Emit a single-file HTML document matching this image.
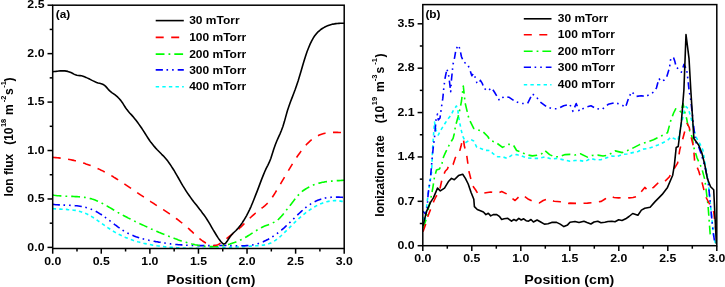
<!DOCTYPE html>
<html><head><meta charset="utf-8"><style>
html,body{margin:0;padding:0;background:#fff;width:725px;height:287px;overflow:hidden}
svg{display:block;filter:blur(0.3px)}
</style></head><body>
<svg width="725" height="287" viewBox="0 0 725 287" font-family='"Liberation Sans", sans-serif' font-weight="bold"><rect x="0" y="0" width="725" height="287" fill="#fff"/>
<defs><clipPath id="cl"><rect x="52.7" y="5.2" width="291.5" height="242.8"/></clipPath><clipPath id="cr"><rect x="422.8" y="4.6" width="294" height="240.9"/></clipPath></defs>
<path d="M52.7,208.6 L54.2,208.8 L55.7,208.9 L57.2,209.0 L58.8,209.1 L60.3,209.1 L61.8,209.2 L63.3,209.3 L64.8,209.4 L66.3,209.4 L67.8,209.6 L69.4,209.7 L70.9,209.8 L72.4,210.0 L73.9,210.2 L75.4,210.4 L76.9,210.7 L78.4,211.1 L80.0,211.5 L81.5,211.9 L83.0,212.4 L84.5,213.0 L86.0,213.6 L87.5,214.3 L89.0,215.1 L90.6,216.0 L92.1,216.9 L93.6,217.8 L95.1,218.8 L96.6,219.8 L98.1,220.9 L99.6,221.9 L101.2,223.0 L102.7,224.1 L104.2,225.2 L105.7,226.3 L107.2,227.3 L108.7,228.3 L110.3,229.3 L111.8,230.3 L113.3,231.2 L114.8,232.1 L116.3,233.0 L117.8,233.8 L119.3,234.6 L120.9,235.3 L122.4,236.0 L123.9,236.7 L125.4,237.4 L126.9,238.0 L128.4,238.6 L129.9,239.2 L131.5,239.7 L133.0,240.3 L134.5,240.8 L136.0,241.2 L137.5,241.7 L139.0,242.1 L140.5,242.5 L142.1,242.9 L143.6,243.3 L145.1,243.6 L146.6,243.9 L148.1,244.2 L149.6,244.5 L151.1,244.8 L152.7,245.1 L154.2,245.3 L155.7,245.5 L157.2,245.8 L158.7,246.0 L160.2,246.2 L161.7,246.4 L163.3,246.5 L164.8,246.7 L166.3,246.9 L167.8,247.0 L169.3,247.2 L170.8,247.3 L172.3,247.4 L173.9,247.5 L175.4,247.6 L176.9,247.7 L178.4,247.8 L179.9,247.9 L181.4,248.0 L182.9,248.1 L184.5,248.1 L186.0,248.2 L187.5,248.2 L189.0,248.3 L190.5,248.3 L192.0,248.3 L193.5,248.3 L195.1,248.4 L196.6,248.4 L198.1,248.4 L199.6,248.4 L201.1,248.4 L202.6,248.3 L204.2,248.3 L205.7,248.3 L207.2,248.3 L208.7,248.2 L210.2,248.2 L211.7,248.2 L213.2,248.1 L214.8,248.1 L216.3,248.0 L217.8,248.0 L219.3,247.9 L220.8,247.8 L222.3,247.8 L223.8,247.7 L225.4,247.6 L226.9,247.5 L228.4,247.5 L229.9,247.4 L231.4,247.3 L232.9,247.2 L234.4,247.1 L236.0,247.0 L237.5,247.0 L239.0,246.9 L240.5,246.8 L242.0,246.7 L243.5,246.6 L245.0,246.5 L246.6,246.4 L248.1,246.3 L249.6,246.2 L251.1,246.1 L252.6,246.0 L254.1,245.9 L255.6,245.8 L257.2,245.7 L258.7,245.6 L260.2,245.5 L261.7,245.3 L263.2,245.1 L264.7,244.9 L266.2,244.6 L267.8,244.1 L269.3,243.6 L270.8,243.0 L272.3,242.2 L273.8,241.4 L275.3,240.4 L276.8,239.3 L278.4,238.1 L279.9,236.8 L281.4,235.5 L282.9,234.1 L284.4,232.6 L285.9,231.2 L287.4,229.6 L289.0,228.1 L290.5,226.6 L292.0,225.1 L293.5,223.6 L295.0,222.1 L296.5,220.7 L298.1,219.3 L299.6,217.9 L301.1,216.6 L302.6,215.3 L304.1,214.1 L305.6,212.9 L307.1,211.7 L308.7,210.7 L310.2,209.6 L311.7,208.6 L313.2,207.7 L314.7,206.8 L316.2,205.9 L317.7,205.2 L319.3,204.4 L320.8,203.8 L322.3,203.2 L323.8,202.6 L325.3,202.1 L326.8,201.7 L328.3,201.4 L329.9,201.1 L331.4,200.9 L332.9,200.7 L334.4,200.6 L335.9,200.6 L337.4,200.7 L338.9,200.8 L340.5,201.1 L342.0,201.4 L343.5,201.7 L345.0,202.2" fill="none" stroke="#00ffff" stroke-width="1.6" stroke-dasharray="3.4 3.2" stroke-linejoin="round" clip-path="url(#cl)"/>
<path d="M52.7,204.4 L54.2,204.5 L55.7,204.7 L57.2,204.8 L58.8,204.9 L60.3,204.9 L61.8,205.0 L63.3,205.1 L64.8,205.1 L66.3,205.2 L67.8,205.2 L69.4,205.3 L70.9,205.4 L72.4,205.5 L73.9,205.6 L75.4,205.7 L76.9,205.8 L78.4,206.0 L80.0,206.2 L81.5,206.5 L83.0,206.8 L84.5,207.1 L86.0,207.5 L87.5,207.9 L89.0,208.4 L90.6,208.9 L92.1,209.6 L93.6,210.2 L95.1,211.0 L96.6,211.8 L98.1,212.6 L99.6,213.6 L101.2,214.5 L102.7,215.6 L104.2,216.6 L105.7,217.7 L107.2,218.8 L108.7,220.0 L110.3,221.1 L111.8,222.3 L113.3,223.4 L114.8,224.6 L116.3,225.7 L117.8,226.9 L119.3,227.9 L120.9,229.0 L122.4,230.0 L123.9,231.0 L125.4,231.9 L126.9,232.7 L128.4,233.5 L129.9,234.3 L131.5,235.0 L133.0,235.6 L134.5,236.2 L136.0,236.8 L137.5,237.3 L139.0,237.8 L140.5,238.3 L142.1,238.7 L143.6,239.1 L145.1,239.5 L146.6,239.8 L148.1,240.1 L149.6,240.5 L151.1,240.7 L152.7,241.0 L154.2,241.3 L155.7,241.6 L157.2,241.8 L158.7,242.1 L160.2,242.3 L161.7,242.6 L163.3,242.8 L164.8,243.0 L166.3,243.3 L167.8,243.5 L169.3,243.7 L170.8,243.9 L172.3,244.0 L173.9,244.2 L175.4,244.4 L176.9,244.5 L178.4,244.7 L179.9,244.8 L181.4,244.9 L182.9,245.0 L184.5,245.1 L186.0,245.2 L187.5,245.3 L189.0,245.4 L190.5,245.4 L192.0,245.5 L193.5,245.5 L195.1,245.6 L196.6,245.6 L198.1,245.6 L199.6,245.6 L201.1,245.6 L202.6,245.6 L204.2,245.6 L205.7,245.6 L207.2,245.6 L208.7,245.6 L210.2,245.6 L211.7,245.6 L213.2,245.6 L214.8,245.6 L216.3,245.6 L217.8,245.5 L219.3,245.5 L220.8,245.5 L222.3,245.5 L223.8,245.5 L225.4,245.5 L226.9,245.6 L228.4,245.6 L229.9,245.6 L231.4,245.6 L232.9,245.7 L234.4,245.7 L236.0,245.7 L237.5,245.8 L239.0,245.8 L240.5,245.8 L242.0,245.8 L243.5,245.8 L245.0,245.7 L246.6,245.6 L248.1,245.5 L249.6,245.3 L251.1,245.1 L252.6,244.9 L254.1,244.6 L255.6,244.3 L257.2,243.9 L258.7,243.4 L260.2,242.9 L261.7,242.3 L263.2,241.7 L264.7,241.0 L266.2,240.3 L267.8,239.5 L269.3,238.7 L270.8,237.8 L272.3,236.9 L273.8,235.9 L275.3,234.9 L276.8,233.8 L278.4,232.6 L279.9,231.4 L281.4,230.2 L282.9,228.9 L284.4,227.6 L285.9,226.2 L287.4,224.8 L289.0,223.3 L290.5,221.9 L292.0,220.4 L293.5,218.9 L295.0,217.4 L296.5,215.9 L298.1,214.4 L299.6,213.0 L301.1,211.6 L302.6,210.2 L304.1,208.9 L305.6,207.6 L307.1,206.4 L308.7,205.3 L310.2,204.3 L311.7,203.3 L313.2,202.4 L314.7,201.7 L316.2,200.9 L317.7,200.3 L319.3,199.7 L320.8,199.2 L322.3,198.8 L323.8,198.4 L325.3,198.0 L326.8,197.8 L328.3,197.5 L329.9,197.4 L331.4,197.2 L332.9,197.1 L334.4,197.1 L335.9,197.1 L337.4,197.1 L338.9,197.1 L340.5,197.2 L342.0,197.3 L343.5,197.4 L345.0,197.5" fill="none" stroke="#0000ff" stroke-width="1.6" stroke-dasharray="7.2 3.6 1.6 4 1.6 4" stroke-linejoin="round" clip-path="url(#cl)"/>
<path d="M52.7,195.0 L54.2,195.3 L55.7,195.5 L57.2,195.7 L58.8,195.8 L60.3,195.9 L61.8,196.0 L63.3,196.1 L64.8,196.2 L66.3,196.3 L67.8,196.3 L69.4,196.3 L70.9,196.4 L72.4,196.4 L73.9,196.5 L75.4,196.6 L76.9,196.6 L78.4,196.7 L80.0,196.9 L81.5,197.0 L83.0,197.2 L84.5,197.4 L86.0,197.6 L87.5,197.9 L89.0,198.3 L90.6,198.6 L92.1,199.1 L93.6,199.5 L95.1,200.1 L96.6,200.7 L98.1,201.3 L99.6,202.1 L101.2,202.8 L102.7,203.6 L104.2,204.4 L105.7,205.3 L107.2,206.1 L108.7,207.0 L110.3,207.9 L111.8,208.8 L113.3,209.7 L114.8,210.6 L116.3,211.5 L117.8,212.4 L119.3,213.2 L120.9,214.1 L122.4,214.9 L123.9,215.7 L125.4,216.5 L126.9,217.3 L128.4,218.1 L129.9,218.8 L131.5,219.6 L133.0,220.4 L134.5,221.1 L136.0,221.8 L137.5,222.6 L139.0,223.3 L140.5,224.0 L142.1,224.7 L143.6,225.4 L145.1,226.1 L146.6,226.8 L148.1,227.5 L149.6,228.2 L151.1,228.9 L152.7,229.6 L154.2,230.2 L155.7,230.9 L157.2,231.5 L158.7,232.2 L160.2,232.8 L161.7,233.4 L163.3,234.1 L164.8,234.7 L166.3,235.3 L167.8,235.9 L169.3,236.5 L170.8,237.1 L172.3,237.6 L173.9,238.2 L175.4,238.8 L176.9,239.3 L178.4,239.9 L179.9,240.4 L181.4,240.9 L182.9,241.4 L184.5,241.9 L186.0,242.3 L187.5,242.8 L189.0,243.2 L190.5,243.6 L192.0,244.0 L193.5,244.3 L195.1,244.7 L196.6,245.0 L198.1,245.3 L199.6,245.5 L201.1,245.8 L202.6,246.0 L204.2,246.2 L205.7,246.3 L207.2,246.4 L208.7,246.5 L210.2,246.6 L211.7,246.6 L213.2,246.6 L214.8,246.6 L216.3,246.5 L217.8,246.4 L219.3,246.2 L220.8,246.0 L222.3,245.8 L223.8,245.5 L225.4,245.2 L226.9,244.9 L228.4,244.5 L229.9,244.1 L231.4,243.6 L232.9,243.1 L234.4,242.6 L236.0,242.0 L237.5,241.4 L239.0,240.7 L240.5,240.0 L242.0,239.3 L243.5,238.5 L245.0,237.6 L246.6,236.7 L248.1,235.8 L249.6,234.9 L251.1,233.9 L252.6,232.9 L254.1,231.9 L255.6,231.0 L257.2,230.0 L258.7,229.1 L260.2,228.3 L261.7,227.5 L263.2,226.7 L264.7,226.1 L266.2,225.5 L267.8,224.9 L269.3,224.3 L270.8,223.7 L272.3,223.1 L273.8,222.4 L275.3,221.5 L276.8,220.5 L278.4,219.3 L279.9,217.9 L281.4,216.3 L282.9,214.6 L284.4,212.7 L285.9,210.8 L287.4,208.8 L289.0,206.9 L290.5,204.9 L292.0,203.0 L293.5,201.1 L295.0,199.1 L296.5,197.2 L298.1,195.4 L299.6,193.7 L301.1,192.3 L302.6,191.0 L304.1,190.0 L305.6,189.0 L307.1,188.1 L308.7,187.2 L310.2,186.4 L311.7,185.7 L313.2,185.1 L314.7,184.5 L316.2,184.0 L317.7,183.5 L319.3,183.1 L320.8,182.7 L322.3,182.3 L323.8,182.1 L325.3,181.8 L326.8,181.6 L328.3,181.4 L329.9,181.2 L331.4,181.1 L332.9,180.9 L334.4,180.8 L335.9,180.7 L337.4,180.6 L338.9,180.6 L340.5,180.5 L342.0,180.4 L343.5,180.3 L345.0,180.3" fill="none" stroke="#00ff00" stroke-width="1.6" stroke-dasharray="8.8 4 1.8 4" stroke-linejoin="round" clip-path="url(#cl)"/>
<path d="M52.7,157.4 L54.2,157.5 L55.7,157.6 L57.2,157.8 L58.8,157.9 L60.3,158.1 L61.8,158.3 L63.3,158.5 L64.8,158.7 L66.3,158.9 L67.8,159.2 L69.4,159.5 L70.9,159.8 L72.4,160.1 L73.9,160.4 L75.4,160.8 L76.9,161.1 L78.4,161.5 L80.0,162.0 L81.5,162.4 L83.0,162.9 L84.5,163.3 L86.0,163.9 L87.5,164.4 L89.0,164.9 L90.6,165.5 L92.1,166.1 L93.6,166.7 L95.1,167.4 L96.6,168.0 L98.1,168.7 L99.6,169.4 L101.2,170.2 L102.7,170.9 L104.2,171.7 L105.7,172.5 L107.2,173.3 L108.7,174.2 L110.3,175.0 L111.8,175.9 L113.3,176.8 L114.8,177.8 L116.3,178.7 L117.8,179.6 L119.3,180.6 L120.9,181.6 L122.4,182.6 L123.9,183.6 L125.4,184.6 L126.9,185.6 L128.4,186.6 L129.9,187.6 L131.5,188.7 L133.0,189.7 L134.5,190.7 L136.0,191.8 L137.5,192.8 L139.0,193.8 L140.5,194.9 L142.1,195.9 L143.6,196.9 L145.1,197.9 L146.6,198.9 L148.1,199.9 L149.6,200.9 L151.1,201.9 L152.7,202.9 L154.2,203.8 L155.7,204.8 L157.2,205.8 L158.7,206.7 L160.2,207.7 L161.7,208.7 L163.3,209.6 L164.8,210.6 L166.3,211.6 L167.8,212.6 L169.3,213.6 L170.8,214.7 L172.3,215.7 L173.9,216.8 L175.4,217.9 L176.9,219.0 L178.4,220.1 L179.9,221.3 L181.4,222.5 L182.9,223.7 L184.5,224.9 L186.0,226.2 L187.5,227.5 L189.0,228.9 L190.5,230.3 L192.0,231.7 L193.5,233.1 L195.1,234.5 L196.6,235.9 L198.1,237.3 L199.6,238.6 L201.1,239.8 L202.6,241.0 L204.2,242.0 L205.7,243.0 L207.2,243.8 L208.7,244.5 L210.2,245.0 L211.7,245.3 L213.2,245.5 L214.8,245.4 L216.3,245.2 L217.8,244.7 L219.3,244.0 L220.8,243.0 L222.3,242.0 L223.8,240.8 L225.4,239.5 L226.9,238.3 L228.4,237.1 L229.9,236.0 L231.4,234.9 L232.9,233.8 L234.4,232.7 L236.0,231.5 L237.5,230.1 L239.0,228.8 L240.5,227.3 L242.0,225.9 L243.5,224.4 L245.0,222.9 L246.6,221.4 L248.1,219.9 L249.6,218.4 L251.1,217.0 L252.6,215.6 L254.1,214.3 L255.6,213.0 L257.2,211.7 L258.7,210.5 L260.2,209.4 L261.7,208.2 L263.2,207.1 L264.7,205.9 L266.2,204.5 L267.8,203.0 L269.3,201.3 L270.8,199.4 L272.3,197.3 L273.8,195.0 L275.3,192.6 L276.8,190.1 L278.4,187.6 L279.9,185.0 L281.4,182.4 L282.9,179.9 L284.4,177.3 L285.9,174.7 L287.4,172.2 L289.0,169.6 L290.5,167.1 L292.0,164.7 L293.5,162.2 L295.0,159.9 L296.5,157.6 L298.1,155.3 L299.6,153.2 L301.1,151.1 L302.6,149.1 L304.1,147.3 L305.6,145.5 L307.1,143.8 L308.7,142.3 L310.2,140.9 L311.7,139.7 L313.2,138.5 L314.7,137.5 L316.2,136.6 L317.7,135.8 L319.3,135.1 L320.8,134.5 L322.3,134.0 L323.8,133.6 L325.3,133.2 L326.8,133.0 L328.3,132.7 L329.9,132.6 L331.4,132.5 L332.9,132.4 L334.4,132.4 L335.9,132.4 L337.4,132.4 L338.9,132.5 L340.5,132.5 L342.0,132.6 L343.5,132.6 L345.0,132.7" fill="none" stroke="#ff0000" stroke-width="1.6" stroke-dasharray="8 7.5" stroke-linejoin="round" clip-path="url(#cl)"/>
<path d="M52.7,71.7 L54.2,71.5 L55.7,71.4 L57.2,71.2 L58.8,71.0 L60.3,70.9 L61.8,70.9 L63.3,70.9 L64.8,70.9 L66.3,71.1 L67.8,71.4 L69.4,71.9 L70.9,72.5 L72.4,73.2 L73.9,74.1 L75.4,74.8 L76.9,75.3 L78.4,75.5 L80.0,75.6 L81.5,75.8 L83.0,76.2 L84.5,76.8 L86.0,77.4 L87.5,78.1 L89.0,78.8 L90.6,79.6 L92.1,80.4 L93.6,81.1 L95.1,81.8 L96.6,82.4 L98.1,82.9 L99.6,83.3 L101.2,83.7 L102.7,84.2 L104.2,85.1 L105.7,86.4 L107.2,88.1 L108.7,89.9 L110.3,91.4 L111.8,92.6 L113.3,93.6 L114.8,94.7 L116.3,95.9 L117.8,97.2 L119.3,98.8 L120.9,100.6 L122.4,102.7 L123.9,105.1 L125.4,107.5 L126.9,109.6 L128.4,111.5 L129.9,113.2 L131.5,114.9 L133.0,116.6 L134.5,118.4 L136.0,120.3 L137.5,122.3 L139.0,124.4 L140.5,126.5 L142.1,128.8 L143.6,131.2 L145.1,133.5 L146.6,135.9 L148.1,138.2 L149.6,140.5 L151.1,142.6 L152.7,144.5 L154.2,146.4 L155.7,148.1 L157.2,149.7 L158.7,151.2 L160.2,152.7 L161.7,154.3 L163.3,155.8 L164.8,157.5 L166.3,159.2 L167.8,161.1 L169.3,163.2 L170.8,165.4 L172.3,167.8 L173.9,170.2 L175.4,172.8 L176.9,175.4 L178.4,178.0 L179.9,180.7 L181.4,183.3 L182.9,185.9 L184.5,188.4 L186.0,190.8 L187.5,193.1 L189.0,195.3 L190.5,197.4 L192.0,199.5 L193.5,201.5 L195.1,203.4 L196.6,205.3 L198.1,207.2 L199.6,209.2 L201.1,211.1 L202.6,213.2 L204.2,215.3 L205.7,217.4 L207.2,219.7 L208.7,222.1 L210.2,224.7 L211.7,227.3 L213.2,229.9 L214.8,232.5 L216.3,235.0 L217.8,237.4 L219.3,239.6 L220.8,241.5 L222.3,243.1 L223.8,244.1 L225.4,243.5 L226.9,241.6 L228.4,239.3 L229.9,237.0 L231.4,235.0 L232.9,233.4 L234.4,232.0 L236.0,230.5 L237.5,228.9 L239.0,227.1 L240.5,225.2 L242.0,223.1 L243.5,220.8 L245.0,218.3 L246.6,215.6 L248.1,212.7 L249.6,209.6 L251.1,206.3 L252.6,202.7 L254.1,199.0 L255.6,195.1 L257.2,191.1 L258.7,187.1 L260.2,183.1 L261.7,179.1 L263.2,175.4 L264.7,171.8 L266.2,168.4 L267.8,165.3 L269.3,162.2 L270.8,158.5 L272.3,153.8 L273.8,149.1 L275.3,144.8 L276.8,141.0 L278.4,137.4 L279.9,134.1 L281.4,130.5 L282.9,126.5 L284.4,121.6 L285.9,116.1 L287.4,110.7 L289.0,106.0 L290.5,101.8 L292.0,97.9 L293.5,94.0 L295.0,90.0 L296.5,85.7 L298.1,81.0 L299.6,76.0 L301.1,70.9 L302.6,65.8 L304.1,60.8 L305.6,56.0 L307.1,51.5 L308.7,47.5 L310.2,43.9 L311.7,40.8 L313.2,38.1 L314.7,35.8 L316.2,33.9 L317.7,32.2 L319.3,30.8 L320.8,29.5 L322.3,28.5 L323.8,27.6 L325.3,26.8 L326.8,26.1 L328.3,25.5 L329.9,24.9 L331.4,24.5 L332.9,24.1 L334.4,23.9 L335.9,23.6 L337.4,23.5 L338.9,23.4 L340.5,23.3 L342.0,23.3 L343.5,23.3 L345.0,23.4" fill="none" stroke="#000" stroke-width="1.6" stroke-linejoin="round" clip-path="url(#cl)"/>
<path d="M423.0,217.0 L425.0,222.0 L427.1,202.2 L429.3,186.3 L431.6,172.0 L432.5,150.0 L433.6,134.0 L434.5,122.0 L436.0,130.0 L438.3,135.0 L440.7,130.3 L444.6,124.0 L447.7,119.3 L450.9,115.4 L453.2,110.7 L456.4,106.0 L457.9,110.7 L458.7,117.0 L459.8,123.2 L461.1,129.5 L462.6,135.8 L465.8,142.5 L470.6,139.4 L473.7,141.0 L476.8,147.3 L481.5,148.8 L484.7,150.4 L490.0,150.5 L493.1,153.7 L497.8,156.8 L502.5,156.8 L507.2,158.4 L511.9,155.2 L516.6,154.6 L521.3,155.9 L526.0,157.7 L532.3,158.4 L538.6,158.4 L544.9,156.8 L551.1,159.0 L557.4,158.4 L563.7,159.9 L570.0,161.3 L575.0,160.5 L580.4,160.6 L585.0,161.5 L590.9,158.5 L596.0,160.0 L601.3,159.6 L606.0,158.0 L611.8,156.1 L617.0,156.5 L622.2,154.4 L627.0,154.0 L632.7,152.6 L638.0,151.5 L643.1,149.1 L648.0,148.5 L653.5,146.7 L658.0,145.0 L664.0,142.2 L667.5,140.5 L670.9,137.0 L674.0,138.5 L677.9,140.4 L679.9,131.8 L679.9,131.8 L682.0,121.4 L684.1,110.9 L686.2,106.7 L688.2,108.8 L690.3,115.1 L692.4,123.5 L694.5,131.8 L696.6,138.1 L699.7,143.3 L702.9,150.0 L704.9,163.0 L708.0,180.0 L713.5,235.0 L715.5,244.0" fill="none" stroke="#00ffff" stroke-width="1.6" stroke-dasharray="3.4 3.2" stroke-linejoin="round" clip-path="url(#cr)"/>
<path d="M423.0,211.2 L425.9,214.6 L427.1,209.0 L428.2,193.1 L430.5,177.3 L432.0,160.0 L433.5,145.0 L434.4,139.0 L436.0,120.0 L437.5,114.0 L438.3,120.0 L440.0,118.0 L441.5,107.0 L442.8,98.4 L443.9,87.1 L445.1,78.0 L446.9,69.0 L448.5,74.6 L449.6,82.6 L450.7,91.6 L451.4,80.3 L453.0,64.4 L454.6,57.6 L455.9,49.7 L458.2,45.2 L459.8,48.6 L461.4,56.5 L463.2,61.0 L465.4,63.3 L467.7,64.4 L470.0,70.1 L471.8,75.8 L473.4,73.5 L475.0,76.9 L476.8,82.6 L478.6,83.7 L480.4,80.3 L482.4,83.7 L484.0,88.2 L487.8,90.9 L491.6,87.8 L494.7,92.5 L499.4,100.4 L504.1,96.3 L508.8,97.2 L515.1,101.3 L521.3,103.5 L527.6,103.5 L532.3,94.1 L535.5,95.7 L540.2,101.9 L546.4,106.6 L552.7,108.8 L557.4,108.8 L563.7,105.7 L569.9,104.5 L573.0,111.3 L576.2,103.5 L579.3,111.3 L584.7,107.4 L591.0,105.8 L595.7,108.3 L601.9,109.6 L608.2,104.3 L614.5,102.7 L620.8,104.3 L625.5,107.4 L628.6,98.0 L631.7,91.7 L636.4,96.4 L641.1,95.8 L645.8,96.4 L650.0,94.4 L654.0,91.8 L656.5,87.8 L658.0,82.0 L659.2,78.7 L660.5,81.3 L664.4,80.0 L667.0,76.0 L668.5,71.0 L669.6,66.9 L670.9,57.7 L673.6,57.7 L674.9,61.6 L676.2,66.9 L678.8,69.5 L681.4,72.1 L684.0,64.3 L686.6,69.5 L688.0,80.0 L689.3,93.0 L690.2,95.0 L692.4,115.1 L695.5,141.8 L698.6,146.5 L701.8,155.9 L704.9,166.9 L708.0,180.0 L712.9,230.0 L714.5,241.0" fill="none" stroke="#0000ff" stroke-width="1.6" stroke-dasharray="7.2 3.6 1.6 4 1.6 4" stroke-linejoin="round" clip-path="url(#cr)"/>
<path d="M423.0,228.0 L425.9,220.3 L428.2,209.0 L430.5,199.9 L432.7,188.6 L434.5,177.0 L436.5,170.0 L439.5,169.0 L441.8,164.4 L443.5,157.0 L445.2,153.1 L447.4,148.6 L449.7,144.0 L451.5,141.0 L453.1,138.4 L454.2,134.0 L455.5,126.0 L458.0,117.0 L460.0,109.0 L461.5,101.0 L463.3,86.0 L465.2,103.3 L469.0,119.0 L473.7,128.4 L478.4,130.0 L482.6,131.3 L487.8,136.5 L490.0,140.2 L496.3,142.7 L502.5,147.4 L508.8,144.3 L513.5,145.2 L516.6,150.5 L521.3,152.1 L526.0,154.6 L532.3,155.9 L537.0,155.2 L541.7,153.7 L544.9,150.5 L549.6,154.6 L554.3,156.8 L559.0,156.8 L565.2,154.6 L570.0,154.4 L575.0,155.0 L580.4,153.7 L587.4,157.1 L592.0,155.5 L597.8,155.1 L603.0,156.0 L608.3,155.1 L615.2,150.9 L622.2,152.6 L630.9,149.1 L639.6,144.6 L646.6,142.2 L653.5,139.7 L660.5,136.3 L667.5,132.8 L670.5,121.4 L673.6,113.0 L675.7,108.8 L678.8,109.9 L680.9,112.0 L683.0,103.6 L685.1,113.0 L686.8,119.3 L688.2,127.7 L690.3,131.8 L692.4,138.1 L693.5,146.5 L697.1,158.0 L701.8,168.4 L704.9,180.0 L708.0,205.0 L709.5,225.0 L710.3,236.0" fill="none" stroke="#00ff00" stroke-width="1.6" stroke-dasharray="8.8 4 1.8 4" stroke-linejoin="round" clip-path="url(#cr)"/>
<path d="M423.0,231.6 L425.9,223.7 L428.0,216.0 L431.6,206.7 L433.9,201.0 L436.1,196.5 L439.5,190.9 L441.8,180.2 L443.5,175.5 L445.2,171.2 L447.4,169.0 L449.7,163.3 L451.5,163.5 L453.1,164.4 L455.4,157.6 L458.8,154.2 L461.0,146.3 L462.5,139.0 L463.3,138.4 L464.4,146.3 L466.7,155.0 L468.9,171.2 L471.2,180.2 L473.5,187.0 L475.7,190.0 L478.0,193.8 L483.4,193.2 L490.7,192.0 L498.0,193.2 L501.7,191.5 L506.6,193.9 L511.5,198.0 L515.1,200.5 L518.8,196.8 L522.4,194.9 L528.5,199.3 L533.4,201.7 L539.5,202.9 L543.2,200.5 L548.0,198.8 L554.1,201.2 L560.2,201.7 L567.6,203.7 L570.0,203.1 L578.0,203.5 L587.4,203.1 L594.0,202.5 L601.3,201.4 L605.0,199.0 L610.0,196.1 L614.0,197.5 L618.7,197.9 L624.0,197.5 L629.2,197.9 L633.0,197.5 L637.9,196.1 L641.0,192.0 L644.8,187.4 L648.3,190.9 L653.5,187.4 L658.8,182.2 L664.0,182.2 L669.2,177.0 L674.4,168.3 L677.6,163.1 L679.8,149.6 L683.0,138.0 L685.1,130.0 L687.2,123.5 L689.3,127.7 L691.4,138.1 L693.5,146.5 L694.6,160.9 L698.8,171.3 L701.9,181.8 L704.0,190.2 L706.1,197.5 L709.0,203.0 L713.7,211.8 L716.0,232.0" fill="none" stroke="#ff0000" stroke-width="1.6" stroke-dasharray="8 7.5" stroke-linejoin="round" clip-path="url(#cr)"/>
<path d="M423.0,225.8 L426.4,211.9 L430.6,202.1 L433.4,197.9 L437.5,188.1 L440.3,190.9 L444.5,188.1 L448.7,181.2 L451.5,178.4 L454.3,179.8 L458.5,175.6 L462.7,174.2 L465.4,178.4 L468.2,184.0 L471.0,192.3 L473.8,199.3 L474.4,206.6 L477.3,209.5 L481.0,211.0 L483.4,212.0 L485.9,214.6 L488.3,213.2 L490.7,215.9 L493.2,214.6 L496.8,214.6 L499.3,216.3 L501.7,219.5 L504.1,218.8 L507.8,218.3 L511.5,221.2 L513.9,219.5 L516.3,220.7 L518.8,218.3 L521.2,220.0 L523.7,218.8 L526.1,220.7 L528.5,221.2 L531.0,219.5 L533.4,222.0 L537.1,220.0 L540.7,222.0 L544.4,224.1 L548.0,223.7 L551.7,222.4 L556.6,222.4 L560.2,224.1 L563.9,226.6 L567.6,224.9 L570.0,222.2 L575.0,221.5 L579.0,222.5 L583.9,221.2 L587.0,222.5 L590.9,224.0 L594.0,222.0 L597.8,221.2 L601.0,222.8 L604.8,222.2 L608.0,221.5 L611.8,221.2 L615.0,221.8 L618.7,219.8 L622.0,220.5 L625.7,218.8 L629.0,216.5 L632.7,213.5 L637.9,215.3 L641.4,210.1 L644.8,208.3 L650.1,207.3 L655.3,201.4 L658.8,197.9 L662.2,194.4 L667.5,187.4 L672.7,175.2 L674.4,164.8 L676.2,147.4 L678.2,146.5 L681.4,121.4 L683.9,90.0 L686.0,34.5 L689.0,58.3 L690.8,90.0 L692.4,115.1 L693.9,138.6 L698.6,144.9 L701.8,152.8 L704.9,165.3 L707.4,178.8 L710.6,186.7 L713.7,189.8 L715.3,222.7 L716.4,244.0" fill="none" stroke="#000" stroke-width="1.6" stroke-linejoin="round" clip-path="url(#cr)"/>
<rect x="52.7" y="5.2" width="291.50" height="243.30" fill="none" stroke="#000" stroke-width="1.5"/>
<line x1="52.70" y1="248.5" x2="52.70" y2="253.7" stroke="#000" stroke-width="1.5"/>
<line x1="76.99" y1="248.5" x2="76.99" y2="251.5" stroke="#000" stroke-width="1.5"/>
<line x1="101.28" y1="248.5" x2="101.28" y2="253.7" stroke="#000" stroke-width="1.5"/>
<line x1="125.58" y1="248.5" x2="125.58" y2="251.5" stroke="#000" stroke-width="1.5"/>
<line x1="149.87" y1="248.5" x2="149.87" y2="253.7" stroke="#000" stroke-width="1.5"/>
<line x1="174.16" y1="248.5" x2="174.16" y2="251.5" stroke="#000" stroke-width="1.5"/>
<line x1="198.45" y1="248.5" x2="198.45" y2="253.7" stroke="#000" stroke-width="1.5"/>
<line x1="222.74" y1="248.5" x2="222.74" y2="251.5" stroke="#000" stroke-width="1.5"/>
<line x1="247.03" y1="248.5" x2="247.03" y2="253.7" stroke="#000" stroke-width="1.5"/>
<line x1="271.32" y1="248.5" x2="271.32" y2="251.5" stroke="#000" stroke-width="1.5"/>
<line x1="295.62" y1="248.5" x2="295.62" y2="253.7" stroke="#000" stroke-width="1.5"/>
<line x1="319.91" y1="248.5" x2="319.91" y2="251.5" stroke="#000" stroke-width="1.5"/>
<line x1="344.20" y1="248.5" x2="344.20" y2="253.7" stroke="#000" stroke-width="1.5"/>
<text transform="translate(52.70,265.10) scale(1.13,1)" font-size="10.9" text-anchor="middle" >0.0</text>
<text transform="translate(101.28,265.10) scale(1.13,1)" font-size="10.9" text-anchor="middle" >0.5</text>
<text transform="translate(149.87,265.10) scale(1.13,1)" font-size="10.9" text-anchor="middle" >1.0</text>
<text transform="translate(198.45,265.10) scale(1.13,1)" font-size="10.9" text-anchor="middle" >1.5</text>
<text transform="translate(247.03,265.10) scale(1.13,1)" font-size="10.9" text-anchor="middle" >2.0</text>
<text transform="translate(295.62,265.10) scale(1.13,1)" font-size="10.9" text-anchor="middle" >2.5</text>
<text transform="translate(344.20,265.10) scale(1.13,1)" font-size="10.9" text-anchor="middle" >3.0</text>
<line x1="47.5" y1="247.40" x2="52.7" y2="247.40" stroke="#000" stroke-width="1.5"/>
<line x1="49.7" y1="223.18" x2="52.7" y2="223.18" stroke="#000" stroke-width="1.5"/>
<line x1="47.5" y1="198.96" x2="52.7" y2="198.96" stroke="#000" stroke-width="1.5"/>
<line x1="49.7" y1="174.74" x2="52.7" y2="174.74" stroke="#000" stroke-width="1.5"/>
<line x1="47.5" y1="150.52" x2="52.7" y2="150.52" stroke="#000" stroke-width="1.5"/>
<line x1="49.7" y1="126.30" x2="52.7" y2="126.30" stroke="#000" stroke-width="1.5"/>
<line x1="47.5" y1="102.08" x2="52.7" y2="102.08" stroke="#000" stroke-width="1.5"/>
<line x1="49.7" y1="77.86" x2="52.7" y2="77.86" stroke="#000" stroke-width="1.5"/>
<line x1="47.5" y1="53.64" x2="52.7" y2="53.64" stroke="#000" stroke-width="1.5"/>
<line x1="49.7" y1="29.42" x2="52.7" y2="29.42" stroke="#000" stroke-width="1.5"/>
<line x1="47.5" y1="5.20" x2="52.7" y2="5.20" stroke="#000" stroke-width="1.5"/>
<text transform="translate(44.50,250.60) scale(1.13,1)" font-size="10.9" text-anchor="end" >0.0</text>
<text transform="translate(44.50,202.16) scale(1.13,1)" font-size="10.9" text-anchor="end" >0.5</text>
<text transform="translate(44.50,153.72) scale(1.13,1)" font-size="10.9" text-anchor="end" >1.0</text>
<text transform="translate(44.50,105.28) scale(1.13,1)" font-size="10.9" text-anchor="end" >1.5</text>
<text transform="translate(44.50,56.84) scale(1.13,1)" font-size="10.9" text-anchor="end" >2.0</text>
<text transform="translate(44.50,8.40) scale(1.13,1)" font-size="10.9" text-anchor="end" >2.5</text>
<rect x="422.8" y="4.6" width="294.00" height="241.10" fill="none" stroke="#000" stroke-width="1.5"/>
<line x1="422.80" y1="245.7" x2="422.80" y2="250.89999999999998" stroke="#000" stroke-width="1.5"/>
<line x1="447.30" y1="245.7" x2="447.30" y2="248.7" stroke="#000" stroke-width="1.5"/>
<line x1="471.80" y1="245.7" x2="471.80" y2="250.89999999999998" stroke="#000" stroke-width="1.5"/>
<line x1="496.30" y1="245.7" x2="496.30" y2="248.7" stroke="#000" stroke-width="1.5"/>
<line x1="520.80" y1="245.7" x2="520.80" y2="250.89999999999998" stroke="#000" stroke-width="1.5"/>
<line x1="545.30" y1="245.7" x2="545.30" y2="248.7" stroke="#000" stroke-width="1.5"/>
<line x1="569.80" y1="245.7" x2="569.80" y2="250.89999999999998" stroke="#000" stroke-width="1.5"/>
<line x1="594.30" y1="245.7" x2="594.30" y2="248.7" stroke="#000" stroke-width="1.5"/>
<line x1="618.80" y1="245.7" x2="618.80" y2="250.89999999999998" stroke="#000" stroke-width="1.5"/>
<line x1="643.30" y1="245.7" x2="643.30" y2="248.7" stroke="#000" stroke-width="1.5"/>
<line x1="667.80" y1="245.7" x2="667.80" y2="250.89999999999998" stroke="#000" stroke-width="1.5"/>
<line x1="692.30" y1="245.7" x2="692.30" y2="248.7" stroke="#000" stroke-width="1.5"/>
<line x1="716.80" y1="245.7" x2="716.80" y2="250.89999999999998" stroke="#000" stroke-width="1.5"/>
<text transform="translate(422.80,262.30) scale(1.13,1)" font-size="10.9" text-anchor="middle" >0.0</text>
<text transform="translate(471.80,262.30) scale(1.13,1)" font-size="10.9" text-anchor="middle" >0.5</text>
<text transform="translate(520.80,262.30) scale(1.13,1)" font-size="10.9" text-anchor="middle" >1.0</text>
<text transform="translate(569.80,262.30) scale(1.13,1)" font-size="10.9" text-anchor="middle" >1.5</text>
<text transform="translate(618.80,262.30) scale(1.13,1)" font-size="10.9" text-anchor="middle" >2.0</text>
<text transform="translate(667.80,262.30) scale(1.13,1)" font-size="10.9" text-anchor="middle" >2.5</text>
<text transform="translate(716.80,262.30) scale(1.13,1)" font-size="10.9" text-anchor="middle" >3.0</text>
<line x1="417.6" y1="245.70" x2="422.8" y2="245.70" stroke="#000" stroke-width="1.5"/>
<line x1="419.8" y1="223.51" x2="422.8" y2="223.51" stroke="#000" stroke-width="1.5"/>
<line x1="417.6" y1="201.32" x2="422.8" y2="201.32" stroke="#000" stroke-width="1.5"/>
<line x1="419.8" y1="179.13" x2="422.8" y2="179.13" stroke="#000" stroke-width="1.5"/>
<line x1="417.6" y1="156.94" x2="422.8" y2="156.94" stroke="#000" stroke-width="1.5"/>
<line x1="419.8" y1="134.75" x2="422.8" y2="134.75" stroke="#000" stroke-width="1.5"/>
<line x1="417.6" y1="112.56" x2="422.8" y2="112.56" stroke="#000" stroke-width="1.5"/>
<line x1="419.8" y1="90.37" x2="422.8" y2="90.37" stroke="#000" stroke-width="1.5"/>
<line x1="417.6" y1="68.18" x2="422.8" y2="68.18" stroke="#000" stroke-width="1.5"/>
<line x1="419.8" y1="45.99" x2="422.8" y2="45.99" stroke="#000" stroke-width="1.5"/>
<line x1="417.6" y1="23.80" x2="422.8" y2="23.80" stroke="#000" stroke-width="1.5"/>
<text transform="translate(414.60,248.90) scale(1.13,1)" font-size="10.9" text-anchor="end" >0.0</text>
<text transform="translate(414.60,204.52) scale(1.13,1)" font-size="10.9" text-anchor="end" >0.7</text>
<text transform="translate(414.60,160.14) scale(1.13,1)" font-size="10.9" text-anchor="end" >1.4</text>
<text transform="translate(414.60,115.76) scale(1.13,1)" font-size="10.9" text-anchor="end" >2.1</text>
<text transform="translate(414.60,71.38) scale(1.13,1)" font-size="10.9" text-anchor="end" >2.8</text>
<text transform="translate(414.60,27.00) scale(1.13,1)" font-size="10.9" text-anchor="end" >3.5</text>
<line x1="155.7" y1="20.6" x2="183.8" y2="20.6" stroke="#000" stroke-width="1.6"/>
<text transform="translate(189.20,24.20) scale(1.2,1)" font-size="10" text-anchor="start" >30 mTorr</text>
<line x1="155.7" y1="37.4" x2="183.8" y2="37.4" stroke="#ff0000" stroke-width="1.6" stroke-dasharray="8 7.5"/>
<text transform="translate(189.20,41.00) scale(1.2,1)" font-size="10" text-anchor="start" >100 mTorr</text>
<line x1="155.7" y1="54.1" x2="183.8" y2="54.1" stroke="#00ff00" stroke-width="1.6" stroke-dasharray="8.8 4 1.8 4"/>
<text transform="translate(189.20,57.70) scale(1.2,1)" font-size="10" text-anchor="start" >200 mTorr</text>
<line x1="155.7" y1="69.9" x2="183.8" y2="69.9" stroke="#0000ff" stroke-width="1.6" stroke-dasharray="7.2 3.6 1.6 4 1.6 4"/>
<text transform="translate(189.20,73.50) scale(1.2,1)" font-size="10" text-anchor="start" >300 mTorr</text>
<line x1="155.7" y1="86.8" x2="183.8" y2="86.8" stroke="#00ffff" stroke-width="1.6" stroke-dasharray="3.4 3.2"/>
<text transform="translate(189.20,90.40) scale(1.2,1)" font-size="10" text-anchor="start" >400 mTorr</text>
<line x1="523.8" y1="18.8" x2="551.5" y2="18.8" stroke="#000" stroke-width="1.6"/>
<text transform="translate(557.80,22.20) scale(1.2,1)" font-size="10" text-anchor="start" >30 mTorr</text>
<line x1="523.8" y1="34.8" x2="551.5" y2="34.8" stroke="#ff0000" stroke-width="1.6" stroke-dasharray="8 7.5"/>
<text transform="translate(557.80,38.20) scale(1.2,1)" font-size="10" text-anchor="start" >100 mTorr</text>
<line x1="523.8" y1="51.3" x2="551.5" y2="51.3" stroke="#00ff00" stroke-width="1.6" stroke-dasharray="8.8 4 1.8 4"/>
<text transform="translate(557.80,54.70) scale(1.2,1)" font-size="10" text-anchor="start" >200 mTorr</text>
<line x1="523.8" y1="67.3" x2="551.5" y2="67.3" stroke="#0000ff" stroke-width="1.6" stroke-dasharray="7.2 3.6 1.6 4 1.6 4"/>
<text transform="translate(557.80,70.70) scale(1.2,1)" font-size="10" text-anchor="start" >300 mTorr</text>
<line x1="523.8" y1="84.7" x2="551.5" y2="84.7" stroke="#00ffff" stroke-width="1.6" stroke-dasharray="3.4 3.2"/>
<text transform="translate(557.80,88.10) scale(1.2,1)" font-size="10" text-anchor="start" >400 mTorr</text>
<text transform="translate(55.80,17.50) scale(1.1,1)" font-size="10.8" text-anchor="start" >(a)</text>
<text transform="translate(425.40,17.60) scale(1.1,1)" font-size="10.8" text-anchor="start" >(b)</text>
<text transform="translate(166.60,284.00) scale(1.15,1)" font-size="12.2" text-anchor="start" >Position (cm)</text>
<text transform="translate(524.30,284.00) scale(1.165,1)" font-size="12.2" text-anchor="start" >Position (cm)</text>
<!--ytitles-->
<text transform="translate(13.0,196.4) rotate(-90) scale(1,1.05)" font-size="12"><tspan x="0" y="0">Ion flux</tspan><tspan x="51.6" y="0">(10</tspan><tspan x="69.3" y="-6.6" font-size="7.5">18</tspan><tspan x="81.3" y="0">m</tspan><tspan x="94.1" y="-6.6" font-size="7.5">-2</tspan><tspan x="101.4" y="0">s</tspan><tspan x="108.7" y="-6.6" font-size="7.5">-1</tspan><tspan x="114.9" y="0">)</tspan></text>
<text transform="translate(384.4,216.7) rotate(-90) scale(1,1.05)" font-size="12"><tspan x="0" y="0">Ionization rate</tspan><tspan x="93.5" y="0">(10</tspan><tspan x="111.5" y="-6.6" font-size="7.5">19</tspan><tspan x="124.8" y="0">m</tspan><tspan x="135.5" y="-6.6" font-size="7.5">-3</tspan><tspan x="143.3" y="0">s</tspan><tspan x="152.0" y="-6.6" font-size="7.5">-1</tspan><tspan x="159.1" y="0">)</tspan></text></svg>
</body></html>
